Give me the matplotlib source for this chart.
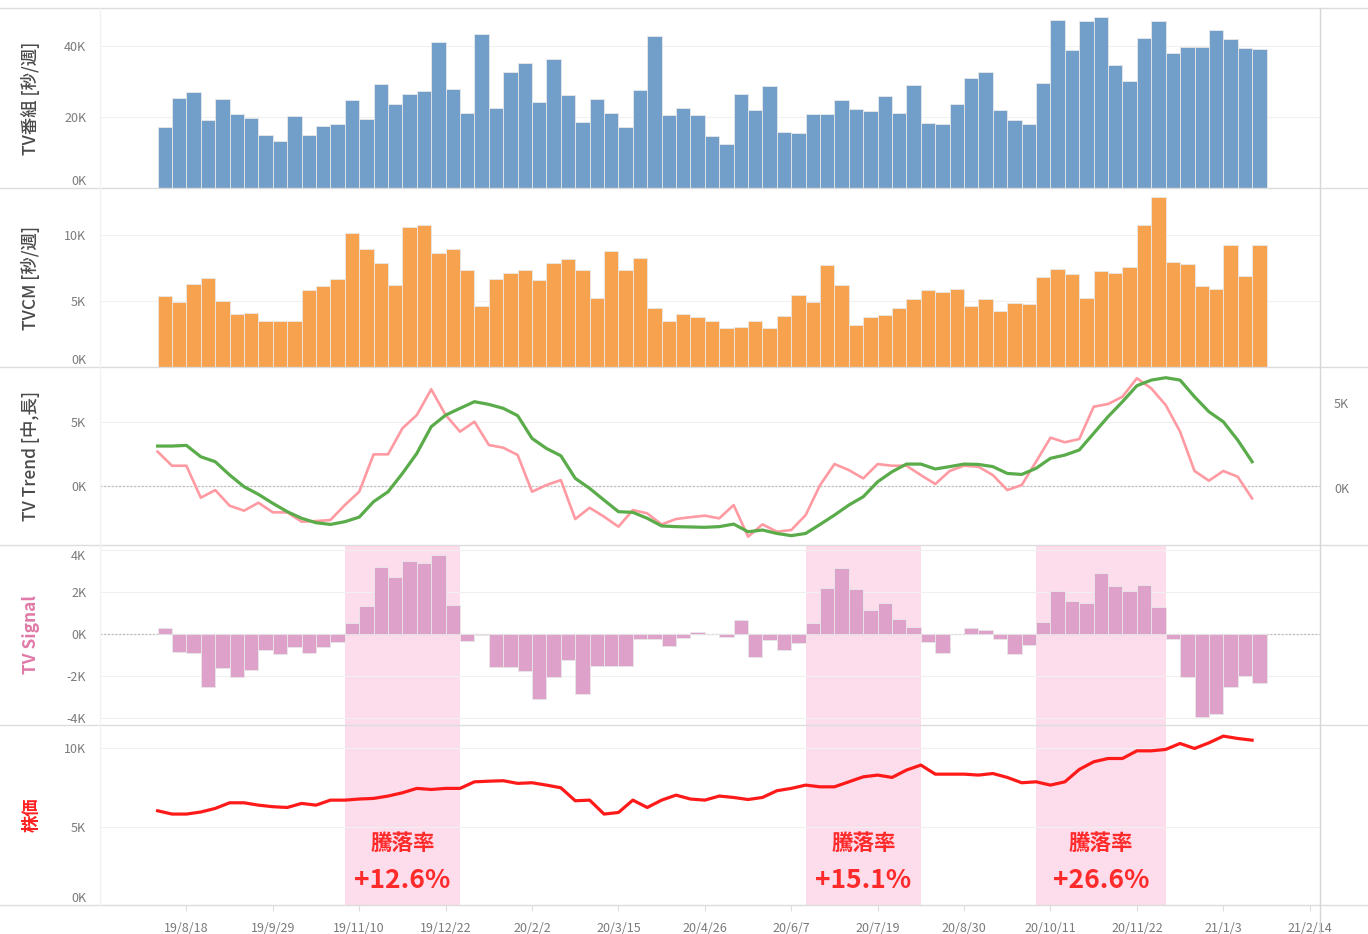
# TV exposure vs. stock price: five stacked weekly panels
import pandas as pd
import matplotlib as mpl
import matplotlib.pyplot as plt
from matplotlib.lines import Line2D

plt.rcParams['font.family'] = ['Noto Sans CJK JP', 'DejaVu Sans']

# weekly categories (week start)
weeks = pd.date_range('2019-08-04', periods=77, freq='7D')

# TV番組 [秒/週], in K
tv_program = [17.1, 25.4, 27.1, 19.2, 25.1, 20.9, 19.6, 14.9, 13.1, 20.3,
              14.9, 17.5, 18.1, 24.8, 19.4, 29.2, 23.7, 26.5, 27.4, 41.0,
              27.9, 21.0, 43.5, 22.4, 32.7, 35.1, 24.3, 36.2, 26.1, 18.7,
              25.1, 21.0, 17.1, 27.6, 42.7, 20.5, 22.4, 20.5, 14.6, 12.4,
              26.4, 21.9, 28.7, 15.9, 15.5, 20.8, 20.8, 24.8, 22.3, 21.8,
              26.0, 21.1, 29.1, 18.3, 18.0, 23.8, 30.9, 32.6, 22.0, 19.2,
              18.0, 29.5, 47.4, 38.9, 46.9, 48.2, 34.7, 30.1, 42.3, 47.1,
              37.9, 39.8, 39.8, 44.5, 42.0, 39.5, 39.2]

# TVCM [秒/週], in K
tv_cm = [5.38, 4.92, 6.31, 6.74, 5.0, 3.99, 4.09, 3.51, 3.51, 3.51,
         5.83, 6.13, 6.66, 10.19, 9.0, 7.9, 6.21, 10.6, 10.77, 8.65,
         8.93, 7.39, 4.62, 6.66, 7.14, 7.39, 6.64, 7.9, 8.17, 7.34,
         5.25, 8.8, 7.34, 8.27, 4.52, 3.51, 3.99, 3.79, 3.46, 2.96,
         3.06, 3.46, 2.96, 3.89, 5.48, 4.92, 7.72, 6.23, 3.16, 3.79,
         3.92, 4.52, 5.18, 5.83, 5.7, 5.9, 4.62, 5.18, 4.24, 4.9,
         4.8, 6.86, 7.42, 7.04, 5.25, 7.32, 7.16, 7.62, 10.79, 12.9,
         8.0, 7.82, 6.13, 5.93, 9.28, 6.94, 9.28]

# TV Trend 中 (left axis), in K
trend_mid = [2.66, 1.56, 1.56, -0.94, -0.34, -1.56, -1.95, -1.33, -2.08, -2.08,
             -2.81, -2.76, -2.68, -1.51, -0.47, 2.45, 2.45, 4.48, 5.52, 7.53,
             5.52, 4.22, 5.0, 3.18, 2.97, 2.4, -0.47, 0.05, 0.44, -2.6,
             -1.72, -2.42, -3.2, -1.9, -2.16, -3.02, -2.6, -2.46, -2.34, -2.55,
             -1.51, -3.98, -3.02, -3.59, -3.46, -2.29, 0.05, 1.69, 1.22, 0.57,
             1.69, 1.56, 1.56, 0.83, 0.13, 1.15, 1.56, 1.48, 0.83, -0.34,
             0.05, 1.88, 3.75, 3.39, 3.65, 6.17, 6.38, 6.95, 8.39, 7.6,
             6.3, 4.22, 1.15, 0.39, 1.15, 0.70, -0.99]

# TV Trend 長 (right axis), in K
trend_long = [2.45, 2.45, 2.49, 1.82, 1.53, 0.75, 0.06, -0.39, -0.92, -1.41,
              -1.8, -2.06, -2.16, -2.0, -1.73, -0.82, -0.24, 0.84, 2.02, 3.59,
              4.27, 4.67, 5.06, 4.9, 4.67, 4.24, 2.9, 2.31, 1.88, 0.55,
              -0.04, -0.73, -1.41, -1.45, -1.8, -2.25, -2.29, -2.31, -2.33, -2.29,
              -2.14, -2.59, -2.49, -2.69, -2.82, -2.69, -2.16, -1.61, -1.02, -0.53,
              0.35, 0.94, 1.39, 1.39, 1.1, 1.24, 1.39, 1.37, 1.24, 0.84,
              0.78, 1.14, 1.73, 1.92, 2.22, 3.2, 4.18, 5.06, 6.0, 6.33,
              6.47, 6.33, 5.35, 4.47, 3.88, 2.8, 1.53]

# TV Signal, in K
tv_signal = [0.29, -0.83, -0.87, -2.49, -1.62, -2.05, -1.70, -0.75, -0.94, -0.59,
             -0.87, -0.59, -0.35, 0.52, 1.35, 3.22, 2.71, 3.49, 3.38, 3.78,
             1.40, -0.30, -0.05, -1.57, -1.57, -1.73, -3.10, -2.02, -1.22, -2.86,
             -1.49, -1.49, -1.49, -0.22, -0.22, -0.56, -0.19, 0.13, 0.02, -0.11,
             0.68, -1.10, -0.27, -0.75, -0.40, 0.56, 2.22, 3.14, 2.14, 1.16,
             1.48, 0.71, 0.33, -0.35, -0.87, 0.0, 0.29, 0.21, -0.24, -0.94,
             -0.52, 0.59, 2.08, 1.57, 1.51, 2.90, 2.32, 2.05, 2.33, 1.29,
             -0.21, -2.02, -3.92, -3.81, -2.49, -1.97, -2.33]

# 株価, in K
stock = [6.02, 5.81, 5.81, 5.94, 6.17, 6.53, 6.53, 6.38, 6.28, 6.23,
         6.49, 6.38, 6.70, 6.70, 6.77, 6.81, 6.96, 7.17, 7.45, 7.38,
         7.45, 7.45, 7.87, 7.91, 7.94, 7.77, 7.81, 7.66, 7.49, 6.66,
         6.70, 5.81, 5.91, 6.70, 6.23, 6.70, 7.02, 6.77, 6.70, 6.96,
         6.87, 6.74, 6.87, 7.30, 7.45, 7.66, 7.55, 7.55, 7.87, 8.19,
         8.30, 8.15, 8.62, 8.94, 8.36, 8.36, 8.36, 8.30, 8.40, 8.15,
         7.81, 7.87, 7.66, 7.87, 8.66, 9.15, 9.36, 9.36, 9.85, 9.85,
         9.94, 10.32, 10.0, 10.36, 10.79, 10.64, 10.53]

# highlighted periods and their 騰落率
hl_start = ['2019-11-03', '2020-06-14', '2020-10-04']
hl_end = ['2019-12-29', '2020-08-09', '2020-12-06']
hl_text = ['+12.6%', '+15.1%', '+26.6%']

tick_dates = ['2019-08-18', '2019-09-29', '2019-11-10', '2019-12-22', '2020-02-02',
              '2020-03-15', '2020-04-26', '2020-06-07', '2020-07-19', '2020-08-30',
              '2020-10-11', '2020-11-22', '2021-01-03', '2021-02-14']
tick_labels = ['19/8/18', '19/9/29', '19/11/10', '19/12/22', '20/2/2', '20/3/15',
               '20/4/26', '20/6/7', '20/7/19', '20/8/30', '20/10/11', '20/11/22',
               '21/1/3', '21/2/14']

W, H = 1368, 934
fig = plt.figure(figsize=(W / 100, H / 100), dpi=100)

left, right = 100 / W, 1320 / W
bounds = [8, 188, 367, 545, 725, 905]
axes = []
for k in range(5):
    top, bot = bounds[k], bounds[k + 1]
    ax = fig.add_axes([left, 1 - bot / H, right - left, (bot - top) / H],
                      sharex=axes[0] if axes else None)
    axes.append(ax)

fmtK = mpl.ticker.FuncFormatter(lambda v, p: f'{v:.0f}K')
tick_gray = '#7a7a7a'


def style(ax, ylim, yticks, label, lcolor='#4a4a4a', bold=False):
    ax.set_ylim(*ylim)
    ax.set_yticks(yticks)
    ax.yaxis.set_major_formatter(fmtK)
    ax.tick_params(axis='y', length=0, pad=10, labelsize=9, labelcolor=tick_gray)
    ax.tick_params(axis='x', length=0, labelbottom=False)
    for s in ax.spines.values():
        s.set_visible(False)
    ax.grid(axis='y', color='#f0f0f0', lw=0.8)
    ax.set_axisbelow(True)
    ax.set_ylabel(label, fontsize=12.5, color=lcolor,
                  fontweight='bold' if bold else 'medium')
    ax.yaxis.set_label_coords(-0.049, 0.5)


# TV番組
ax = axes[0]
ax.bar(weeks, tv_program, width=7, align='edge', color='#729fca',
       edgecolor='#e8e8e8', linewidth=0.6)
style(ax, (0, 50.7), [0, 20, 40], 'TV番組 [秒/週]')

# TVCM
ax = axes[1]
ax.bar(weeks, tv_cm, width=7, align='edge', color='#f6a24e',
       edgecolor='#e8e8e8', linewidth=0.6)
style(ax, (0, 13.6), [0, 5, 10], 'TVCM [秒/週]')

# TV Trend
ax = axes[2]
ax.axhline(0, color='#bbbbbb', lw=0.9, ls=(0, (1.5, 1.5)))
ax.plot(weeks, trend_mid, color='#ff9aa2', lw=1.9)
style(ax, (-4.63, 9.27), [0, 5], 'TV Trend [中,長]')
ax2 = ax.twinx()
ax2.plot(weeks, trend_long, color='#5aab4a', lw=2.3)
ax2.set_ylim(-3.37, 7.1)
ax2.set_yticks([0, 5])
ax2.yaxis.set_major_formatter(fmtK)
ax2.tick_params(axis='y', length=0, pad=10, labelsize=9, labelcolor=tick_gray)
for s in ax2.spines.values():
    s.set_visible(False)

# TV Signal
ax = axes[3]
for s, e in zip(hl_start, hl_end):
    ax.axvspan(pd.Timestamp(s), pd.Timestamp(e), color='#fddcec', lw=0, zorder=0)
ax.axhline(0, color='#bbbbbb', lw=0.9, ls=(0, (1.5, 1.5)), zorder=1)
ax.bar(weeks, tv_signal, width=7, align='edge', color='#dea1c9',
       edgecolor='#e8e8e8', linewidth=0.6, zorder=2)
style(ax, (-4.32, 4.25), [-4, -2, 0, 2, 4], 'TV Signal', lcolor='#e07aa8', bold=True)

# 株価
ax = axes[4]
for s, e, t in zip(hl_start, hl_end, hl_text):
    s, e = pd.Timestamp(s), pd.Timestamp(e)
    ax.axvspan(s, e, color='#fddcec', lw=0, zorder=0)
    mid = s + (e - s) / 2
    ax.text(mid, 3.96, '騰落率', ha='center', va='center', color='#ff2a2a',
            fontsize=15.5, fontweight='bold')
    ax.text(mid, 1.55, t, ha='center', va='center', color='#ff2a2a',
            fontsize=19, fontweight='bold')
ax.plot(weeks, stock, color='#ff1a1a', lw=2.3, zorder=3)
style(ax, (0, 11.5), [0, 5, 10], '株価', lcolor='#ff2020', bold=True)

# shift edge labels inside their pane like the original
for a in (axes[0], axes[1], axes[4]):
    a.get_yticklabels()[0].set_va('bottom')
axes[3].get_yticklabels()[-1].set_va('top')

# shared x axis
ax = axes[4]
ax.set_xlim(pd.Timestamp('2019-07-07'), pd.Timestamp('2021-02-19'))
ax.set_xticks([pd.Timestamp(d) for d in tick_dates])
ax.set_xticklabels(tick_labels)
ax.tick_params(axis='x', labelbottom=True, length=4, color='#dddddd',
               pad=8, labelsize=9, labelcolor=tick_gray)

# pane borders
for b in bounds:
    fig.add_artist(Line2D([0, 1], [1 - b / H, 1 - b / H], color='#dcdcdc', lw=1))
fig.add_artist(Line2D([right, right], [0, 1 - 8 / H], color='#d6d6d6', lw=1))
fig.add_artist(Line2D([left, left], [1 - 905 / H, 1 - 8 / H], color='#f2f2f2', lw=1))

fig.savefig('out.png', dpi=100)
